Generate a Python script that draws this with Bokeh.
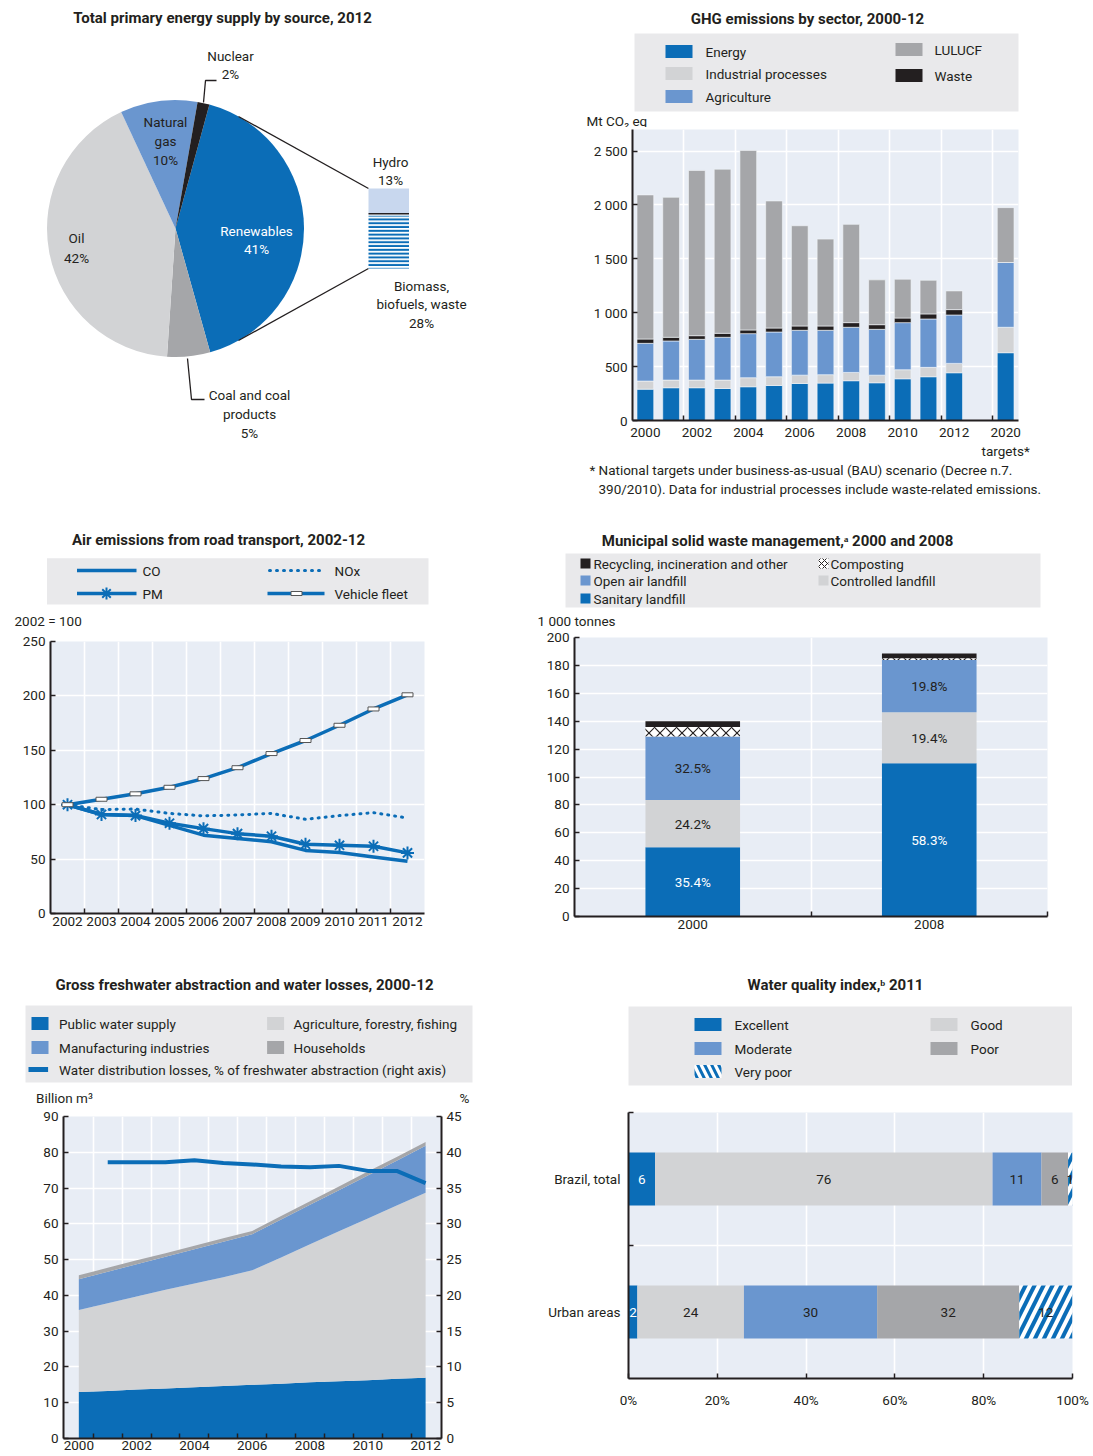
import math
from bokeh.plotting import figure
from bokeh.layouts import column, row
from bokeh.models import Range1d, FixedTicker, LinearAxis, ColumnDataSource
from bokeh.core.properties import value
from bokeh.embed import file_html
from bokeh.resources import INLINE

FONT = "Roboto"
TXT = "#231F20"
BLUE = "#0B6DB7"
MBLUE = "#6A96CF"
LGRAY = "#D2D3D5"
GRAY = "#A5A6A9"
BLACK = "#231F20"
HYDRO = "#C8D7EE"
PLOTBG = "#E8EDF5"
LEGBG = "#E9E9EB"
FS = "13.5px"
TFS = "15px"

# ---------------- data ----------------
# Total primary energy supply by source, 2012 (%)
tpes_sources = ["Renewables", "Coal and coal products", "Oil", "Natural gas", "Nuclear"]
tpes_share = [41.4, 5.4, 42.0, 9.7, 1.5]
renew_sources = ["Hydro", "Biomass, biofuels, waste"]
renew_share = [13, 28]

# GHG emissions by sector (Mt CO2 eq)
ghg_years = ["2000", "2001", "2002", "2003", "2004", "2005", "2006", "2007",
             "2008", "2009", "2010", "2011", "2012", "2020\ntargets*"]
ghg_energy = [291, 304, 304, 297, 313, 325, 344, 347, 369, 350, 387, 406, 443, 629]
ghg_industrial = [75, 71, 71, 78, 84, 81, 77, 78, 77, 71, 84, 87, 87, 236]
ghg_agriculture = [350, 363, 378, 397, 409, 415, 416, 412, 419, 425, 437, 449, 449, 601]
ghg_waste = [40, 34, 34, 37, 34, 37, 40, 40, 43, 43, 43, 47, 50, 0]
ghg_lulucf = [1337, 1299, 1533, 1523, 1666, 1179, 930, 806, 912, 416, 360, 312, 173, 509]
ghg_ticks = [0, 500, 1000, 1500, 2000, 2500]

# Air emissions from road transport (2002 = 100)
air_years = ["2002", "2003", "2004", "2005", "2006", "2007", "2008", "2009", "2010", "2011", "2012"]
air_co = [100, 91, 90, 81, 72, 69, 66, 58, 56, 52, 48]
air_nox = [100, 95.5, 96, 92, 89.7, 90.6, 92, 86.6, 90, 92.7, 87.8]
air_pm = [100, 91, 90, 83, 78, 73.4, 71, 63.6, 62.7, 61.8, 55.7]
air_fleet = [100, 105, 110, 116, 124, 134, 147, 159, 173, 188, 201]

# Municipal solid waste management (1 000 tonnes)
msw_years = ["2000", "2008"]
msw_sanitary = [49.6, 109.9]
msw_controlled = [33.9, 36.6]
msw_open = [45.5, 37.3]
msw_composting = [6.8, 1.3]
msw_recycling = [4.2, 3.4]

# Gross freshwater abstraction (billion m3) and water losses (%)
fw_years = [2000, 2001, 2002, 2003, 2004, 2005, 2006, 2007, 2008, 2009, 2010, 2011, 2012]
fw_public = [13.0, 13.3, 13.7, 14.0, 14.3, 14.7, 15.0, 15.3, 15.7, 16.0, 16.3, 16.7, 17.0]
fw_agri = [22.9, 24.5, 26.0, 27.6, 29.0, 30.4, 32.0, 35.3, 38.6, 41.9, 45.2, 48.4, 51.7]
fw_manu = [8.6, 8.8, 9.0, 9.2, 9.6, 9.9, 10.1, 10.6, 11.0, 11.5, 12.0, 12.5, 13.1]
fw_house = [1.1, 1.1, 1.1, 1.0, 1.0, 1.0, 0.9, 1.0, 1.0, 1.0, 1.1, 1.1, 1.1]
fw_loss_years = [2001, 2002, 2003, 2004, 2005, 2006, 2007, 2008, 2009, 2010, 2011, 2012]
fw_losses = [38.6, 38.6, 38.6, 38.9, 38.5, 38.3, 38.0, 37.9, 38.1, 37.4, 37.4, 35.7]

# Water quality index 2011 (%)
wq_regions = ["Brazil, total", "Urban areas"]
wq_excellent = [6, 2]
wq_good = [76, 24]
wq_moderate = [11, 30]
wq_poor = [6, 32]
wq_verypoor = [1, 12]


# ---------------- helpers ----------------
def canvas(x0, y0, w, h):
    p = figure(width=w, height=h, x_range=Range1d(x0, x0 + w), y_range=Range1d(-(y0 + h), -y0),
               x_axis_location=None, y_axis_location=None, output_backend="svg",
               toolbar_location=None, min_border=0)
    p.grid.visible = False
    p.outline_line_color = None
    p.background_fill_color = "white"
    p.border_fill_color = "white"
    return p


def T(p, x, y, s, size=FS, bold=False, align="left", color=TXT):
    p.text(x=[x], y=[-y], text=[s], text_font=value(FONT), text_font_size=size,
           text_font_style="bold" if bold else "normal", text_align=align,
           text_baseline="middle", text_color=color)


def box(p, l, r, t, b, color, **kw):
    p.quad(left=[l], right=[r], top=[-t], bottom=[-b], fill_color=color, line_color=None, **kw)


def chart(w, h, xr, yr, bl, br, bt, bb):
    p = figure(width=w, height=h, x_range=xr, y_range=yr, output_backend="svg",
               toolbar_location=None, min_border_left=bl, min_border_right=br,
               min_border_top=bt, min_border_bottom=bb)
    p.background_fill_color = PLOTBG
    p.border_fill_color = "white"
    p.outline_line_color = None
    p.grid.grid_line_color = "white"
    p.grid.grid_line_width = 1.6
    return p


def style_axis(ax, tick_in=5):
    ax.axis_line_color = TXT
    ax.axis_line_width = 2
    ax.major_tick_in = tick_in
    ax.major_tick_out = 0
    ax.major_tick_line_color = TXT
    ax.major_tick_line_width = 1.5
    ax.minor_tick_in = 5
    ax.minor_tick_out = 0
    ax.minor_tick_line_color = TXT
    ax.minor_tick_line_width = 1.5
    ax.major_label_text_font = FONT
    ax.major_label_text_font_size = FS
    ax.major_label_text_color = TXT
    ax.major_label_standoff = 5


# ---------------- panel 1: pie ----------------
p1 = canvas(0, 0, 500, 518)
T(p1, 222, 17, "Total primary energy supply by source, 2012", size=TFS, bold=True, align="center")
cx, cy, rad = 175, 228, 128.5
cum = 15.3
st, en = [], []
for v in tpes_share:
    st.append(math.radians(90 - cum))
    cum += v * 3.6
    en.append(math.radians(90 - cum))
p1.wedge(x="x", y="y", radius=rad, start_angle="s", end_angle="e", direction="clock",
         fill_color="c", line_color=None,
         source=ColumnDataSource(dict(x=[cx] * 5, y=[-cy] * 5, s=st, e=en,
                                      c=[BLUE, GRAY, LGRAY, MBLUE, BLACK])))
pct = [f"{round(v)}%" for v in tpes_share]
T(p1, 256, 230, tpes_sources[0], align="center", color="white")
T(p1, 256, 248, pct[0], align="center", color="white")
T(p1, 249, 394, "Coal and coal", align="center")
T(p1, 249, 413, "products", align="center")
T(p1, 249, 432, pct[1], align="center")
T(p1, 76, 237, tpes_sources[2], align="center")
T(p1, 76, 257, pct[2], align="center")
T(p1, 165, 121, "Natural", align="center")
T(p1, 165, 140, "gas", align="center")
T(p1, 165, 159, pct[3], align="center")
T(p1, 230, 55, tpes_sources[4], align="center")
T(p1, 230, 73, pct[4], align="center")
p1.line(x=[216, 205, 203], y=[-80, -80, -102], line_color=TXT, line_width=1.3)
p1.line(x=[187, 191, 204], y=[-358, -399, -399], line_color=TXT, line_width=1.3)
p1.segment(x0=[238, 238], y0=[-116, -340], x1=[368, 368], y1=[-188, -268], line_color=TXT, line_width=1.3)
k = (268 - 188) / sum(renew_share)
htop = 188
hb = htop + renew_share[0] * k
bb_ = hb + renew_share[1] * k
box(p1, 368, 408.5, htop, hb, HYDRO)
box(p1, 368, 408.5, hb + 2, bb_, "white", hatch_pattern="horizontal_line", hatch_color=BLUE,
    hatch_scale=3.8, hatch_weight=2.2)
p1.segment(x0=[368], y0=[-hb], x1=[408.5], y1=[-hb], line_color=TXT, line_width=1.5)
T(p1, 390, 161, renew_sources[0], align="center")
T(p1, 390, 179, f"{renew_share[0]}%", align="center")
T(p1, 421, 285, "Biomass,", align="center")
T(p1, 421, 303, "biofuels, waste", align="center")
T(p1, 421, 322, f"{renew_share[1]}%", align="center")

# ---------------- panel 2: GHG ----------------
h2 = canvas(500, 0, 593, 127)
T(h2, 807, 18, "GHG emissions by sector, 2000-12", size=TFS, bold=True, align="center")
box(h2, 634, 1018, 33, 111, LEGBG)
ghg_names = ["Energy", "Industrial processes", "Agriculture", "Waste", "LULUCF"]
ghg_cols = [BLUE, LGRAY, MBLUE, BLACK, GRAY]
for (nm, col, sx, tx, yy) in [(ghg_names[0], ghg_cols[0], 665, 705, 51),
                              (ghg_names[1], ghg_cols[1], 665, 705, 73),
                              (ghg_names[2], ghg_cols[2], 665, 705, 96),
                              (ghg_names[4], ghg_cols[4], 895, 934, 49),
                              (ghg_names[3], ghg_cols[3], 895, 934, 75)]:
    box(h2, sx, sx + 27, yy - 6.5, yy + 6.5, col)
    T(h2, tx, yy, nm)
T(h2, 586, 120, "Mt CO\u2082 eq")

xpos = [i for i in range(13)] + [14]
src2 = ColumnDataSource(dict(x=xpos, energy=ghg_energy, industrial=ghg_industrial,
                             agriculture=ghg_agriculture, waste=ghg_waste, lulucf=ghg_lulucf))
c2 = chart(593, 334, Range1d(-0.5, 14.5), Range1d(0, 2700), 132, 75, 2, 41)
c2.vbar_stack(["energy", "industrial", "agriculture", "waste", "lulucf"], x="x", width=0.65,
              fill_color=[BLUE, LGRAY, MBLUE, BLACK, GRAY], line_color="#F4F6FA", line_width=0.6,
              source=src2)
style_axis(c2.xaxis[0], tick_in=0)
c2.xaxis.ticker = FixedTicker(ticks=[0, 2, 4, 6, 8, 10, 12, 14],
                              minor_ticks=[1.5, 3.5, 5.5, 7.5, 9.5, 11.5, 13.5])
c2.xaxis.major_label_overrides = {xpos[i]: ghg_years[i] for i in range(0, 14, 2)} | {14: ghg_years[13]}
c2.xaxis.major_label_standoff = 3
c2.xgrid.ticker = FixedTicker(ticks=[1.5, 3.5, 5.5, 7.5, 9.5, 11.5, 13.5])
style_axis(c2.yaxis[0])
c2.yaxis.ticker = FixedTicker(ticks=ghg_ticks)
c2.yaxis.major_label_overrides = {t: f"{t:,}".replace(",", " ") for t in ghg_ticks}
c2.ygrid.ticker = FixedTicker(ticks=ghg_ticks)
f2 = canvas(500, 461, 593, 57)
T(f2, 589, 469, "*")
T(f2, 598, 469, "National targets under business-as-usual (BAU) scenario (Decree n.7.")
T(f2, 598, 488, "390/2010). Data for industrial processes include waste-related emissions.")

# ---------------- panel 3: air emissions ----------------
h3 = canvas(0, 518, 500, 110)
T(h3, 218, 539, "Air emissions from road transport, 2002-12", size=TFS, bold=True, align="center")
box(h3, 46.5, 428, 557.7, 604, LEGBG)
h3.line(x=[76.5, 136], y=[-570, -570], line_color=BLUE, line_width=3.5)
T(h3, 142, 570, "CO")
h3.line(x=[76.5, 136], y=[-593, -593], line_color=BLUE, line_width=3.5)
h3.scatter(x=[106], y=[-593], marker="asterisk", size=12, line_color=BLUE, line_width=2)
T(h3, 142, 593, "PM")
h3.line(x=[269, 324], y=[-570, -570], line_color=BLUE, line_width=3, line_dash="1 6", line_cap="round")
T(h3, 334, 570, "NOx")
h3.line(x=[267, 324], y=[-593, -593], line_color=BLUE, line_width=3.5)
h3.rect(x=[296], y=[-593], width=11, height=4, fill_color="white", line_color="#555555", line_width=1)
T(h3, 334, 593, "Vehicle fleet")
T(h3, 14, 620, "2002 = 100")

ax3 = list(range(len(air_years)))
c3 = chart(500, 330, Range1d(-0.5, 10.5), Range1d(0, 250), 50, 76, 13, 45)
c3.line(ax3, air_co, line_color=BLUE, line_width=3.5)
c3.line(ax3, air_nox, line_color=BLUE, line_width=3, line_dash="1 6", line_cap="round")
c3.line(ax3, air_pm, line_color=BLUE, line_width=3.5)
c3.scatter(ax3, air_pm, marker="asterisk", size=13, line_color=BLUE, line_width=2)
c3.line(ax3, air_fleet, line_color=BLUE, line_width=3.5)
c3.rect(ax3, air_fleet, width=11, height=4, width_units="screen", height_units="screen",
        fill_color="white", line_color="#555555", line_width=1)
style_axis(c3.xaxis[0], tick_in=0)
c3.xaxis.ticker = FixedTicker(ticks=ax3, minor_ticks=[i + 0.5 for i in range(10)])
c3.xaxis.major_label_overrides = {i: air_years[i] for i in ax3}
c3.xaxis.major_label_standoff = 3
c3.xgrid.ticker = FixedTicker(ticks=[i + 0.5 for i in range(10)])
style_axis(c3.yaxis[0])
c3.yaxis.ticker = FixedTicker(ticks=[0, 50, 100, 150, 200, 250])

# ---------------- panel 4: MSW ----------------
h4 = canvas(500, 518, 593, 110)
T(h4, 777, 540, "Municipal solid waste management,\u1d43 2000 and 2008", size=TFS, bold=True, align="center")
box(h4, 565, 1040, 553, 607, LEGBG)
msw_names = ["Sanitary landfill", "Controlled landfill", "Open air landfill", "Composting",
             "Recycling, incineration and other"]
for (nm, col, sx, tx, yy, hatch) in [(msw_names[4], BLACK, 580, 593, 563, None),
                                     (msw_names[2], MBLUE, 580, 593, 580, None),
                                     (msw_names[0], BLUE, 580, 593, 598, None),
                                     (msw_names[3], "white", 818, 830, 563, "diagonal_cross"),
                                     (msw_names[1], LGRAY, 818, 830, 580, None)]:
    if hatch:
        box(h4, sx, sx + 10, yy - 5, yy + 5, col, hatch_pattern=hatch, hatch_color=TXT,
            hatch_scale=6, hatch_weight=1)
    else:
        box(h4, sx, sx + 10, yy - 5, yy + 5, col)
    T(h4, tx, yy, nm)
T(h4, 537, 620, "1 000 tonnes")

c4 = chart(593, 330, Range1d(0, 4), Range1d(0, 200), 74, 46, 9, 42)
mx = [1, 3]
layers = [msw_sanitary, msw_controlled, msw_open, msw_composting, msw_recycling]
base = [0.0, 0.0]
bots, tops = [], []
for lay in layers:
    b = list(base)
    t = [base[i] + lay[i] for i in range(2)]
    bots.append(b)
    tops.append(t)
    base = t
totals = base
for j, col in enumerate([BLUE, LGRAY, MBLUE]):
    c4.vbar(x=mx, bottom=bots[j], top=tops[j], width=0.8, fill_color=col, line_color=None)
c4.vbar(x=mx, bottom=bots[3], top=tops[3], width=0.8, fill_color="white", line_color=None,
        hatch_pattern="diagonal_cross", hatch_color=TXT, hatch_scale=11, hatch_weight=1.2)
c4.vbar(x=mx, bottom=bots[4], top=tops[4], width=0.8, fill_color=BLACK, line_color=None)
for j in range(3):
    c4.text(x=mx, y=[(bots[j][i] + tops[j][i]) / 2 for i in range(2)],
            text=[f"{layers[j][i] / totals[i] * 100:.1f}%" for i in range(2)],
            text_font=value(FONT), text_font_size=FS, text_align="center", text_baseline="middle",
            text_color="white" if j == 0 else TXT)
style_axis(c4.xaxis[0], tick_in=0)
c4.xaxis.ticker = FixedTicker(ticks=mx, minor_ticks=[2, 4])
c4.xaxis.major_label_overrides = {1: msw_years[0], 3: msw_years[1]}
c4.xaxis.major_label_standoff = 3
c4.xgrid.ticker = FixedTicker(ticks=[2])
style_axis(c4.yaxis[0])
c4.yaxis.ticker = FixedTicker(ticks=list(range(0, 201, 20)))

# ---------------- panel 5: freshwater ----------------
h5 = canvas(0, 958, 500, 146)
T(h5, 244, 984, "Gross freshwater abstraction and water losses, 2000-12", size=TFS, bold=True, align="center")
box(h5, 25, 472, 1005, 1082, LEGBG)
fw_names = ["Public water supply", "Agriculture, forestry, fishing", "Manufacturing industries", "Households"]
for (nm, col, sx, tx, yy) in [(fw_names[0], BLUE, 31, 58.6, 1023),
                              (fw_names[2], MBLUE, 31, 58.6, 1047),
                              (fw_names[1], LGRAY, 266.6, 293, 1023),
                              (fw_names[3], GRAY, 266.6, 293, 1047)]:
    box(h5, sx, sx + 17, yy - 6.5, yy + 6.5, col)
    T(h5, tx, yy, nm)
box(h5, 28, 47.6, 1066.5, 1071.5, BLUE)
T(h5, 58.6, 1069, "Water distribution losses, % of freshwater abstraction (right axis)")
T(h5, 35.5, 1097, "Billion m\u00b3")
T(h5, 464, 1097, "%", align="center")

c5 = chart(500, 352, Range1d(1999.47, 2012.55), Range1d(0, 90), 63, 59, 12, 18)
c5.extra_y_ranges = {"pct": Range1d(0, 45)}
src5 = ColumnDataSource(dict(year=fw_years, public=fw_public, agri=fw_agri, manu=fw_manu, house=fw_house))
c5.varea_stack(["public", "agri", "manu", "house"], x="year", fill_color=[BLUE, LGRAY, MBLUE, GRAY],
               source=src5)
c5.line(fw_loss_years, fw_losses, y_range_name="pct", line_color=BLUE, line_width=4)
ra = LinearAxis(y_range_name="pct")
c5.add_layout(ra, "right")
style_axis(c5.xaxis[0], tick_in=0)
c5.xaxis.ticker = FixedTicker(ticks=fw_years[::2], minor_ticks=[y + 0.5 for y in fw_years[:-1]])
c5.xaxis.major_label_standoff = 2
c5.xgrid.ticker = FixedTicker(ticks=[y + 0.5 for y in fw_years[:-1]])
style_axis(c5.yaxis[0])
c5.yaxis[0].ticker = FixedTicker(ticks=list(range(0, 91, 10)))
style_axis(ra)
ra.ticker = FixedTicker(ticks=list(range(0, 46, 5)))
c5.ygrid.ticker = FixedTicker(ticks=list(range(0, 91, 10)))

# ---------------- panel 6: water quality ----------------
h6 = canvas(500, 958, 593, 143)
T(h6, 835, 984, "Water quality index,\u1d47 2011", size=TFS, bold=True, align="center")
box(h6, 628, 1071.5, 1006, 1085, LEGBG)
wq_names = ["Excellent", "Good", "Moderate", "Poor", "Very poor"]
wq_cols = [BLUE, LGRAY, MBLUE, GRAY, "white"]
for (i, sx, tx, yy) in [(0, 694, 734, 1024), (2, 694, 734, 1048), (4, 694, 734, 1071),
                        (1, 930, 970, 1024), (3, 930, 970, 1048)]:
    if i == 4:
        box(h6, sx, sx + 27, yy - 6.5, yy + 6.5, "white", hatch_pattern="left_diagonal_line",
            hatch_color=BLUE, hatch_scale=14, hatch_weight=3)
    else:
        box(h6, sx, sx + 27, yy - 6.5, yy + 6.5, wq_cols[i])
    T(h6, tx, yy, wq_names[i])

c6 = chart(593, 355, Range1d(0, 100), Range1d(0, 4), 128, 21, 11, 78)
wy = [3, 1]
wlayers = [wq_excellent, wq_good, wq_moderate, wq_poor, wq_verypoor]
base = [0, 0]
for j, lay in enumerate(wlayers):
    left = list(base)
    right = [base[i] + lay[i] for i in range(2)]
    if j == 4:
        c6.hbar(y=wy, left=left, right=right, height=0.8, fill_color="white", line_color=None,
                hatch_pattern="right_diagonal_line", hatch_color=BLUE, hatch_scale=18, hatch_weight=4)
    else:
        c6.hbar(y=wy, left=left, right=right, height=0.8, fill_color=wq_cols[j], line_color=None)
    c6.text(x=[(left[i] + right[i]) / 2 for i in range(2)], y=wy, text=[str(v) for v in lay],
            text_font=value(FONT), text_font_size=FS, text_align="center", text_baseline="middle",
            text_color="white" if j == 0 else TXT)
    base = right
style_axis(c6.xaxis[0])
c6.xaxis.ticker = FixedTicker(ticks=[0, 20, 40, 60, 80, 100])
c6.xaxis.major_label_overrides = {t: f"{t}%" for t in [0, 20, 40, 60, 80, 100]}
c6.xaxis.major_label_standoff = 13
c6.xgrid.ticker = FixedTicker(ticks=[20, 40, 60, 80])
style_axis(c6.yaxis[0], tick_in=0)
c6.yaxis.ticker = FixedTicker(ticks=wy, minor_ticks=[2, 4])
c6.yaxis.major_label_overrides = {3: wq_regions[0], 1: wq_regions[1]}
c6.yaxis.major_label_standoff = 8
c6.ygrid.ticker = FixedTicker(ticks=[2])

# each figure wrapped in its own row so that frames are not aligned across a column
layout = column(
    row(p1, column(row(h2), row(c2), row(f2))),
    row(column(row(h3), row(c3)), column(row(h4), row(c4))),
    row(column(row(h5), row(c5)), column(row(h6), row(c6))),
)
open("out.html", "w").write(file_html(layout, INLINE))
